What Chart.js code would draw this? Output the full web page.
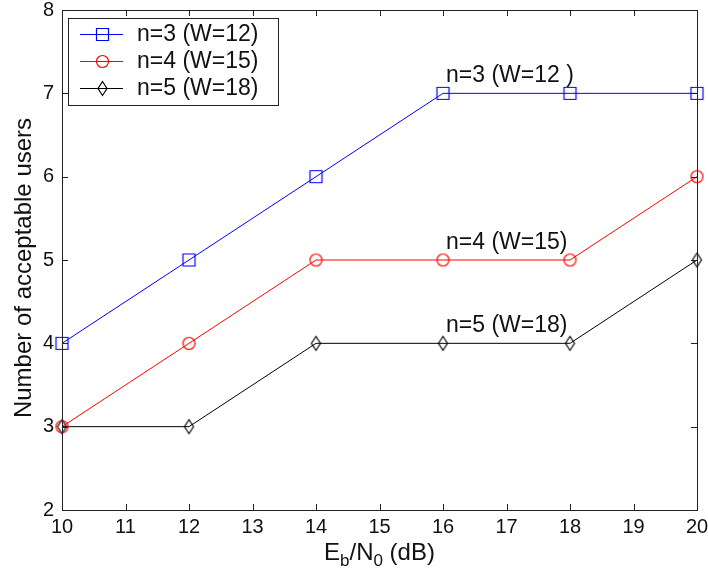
<!DOCTYPE html>
<html>
<head>
<meta charset="utf-8">
<script src="https://cdn.jsdelivr.net/npm/chart.js@4.4.1/dist/chart.umd.min.js"></script>
<style>
  html, body { margin: 0; padding: 0; background: #fff; }
  #chart { display: block; }
</style>
</head>
<body>
<canvas id="chart" width="708" height="577"></canvas>
<script>
// Eb/N0 sweep (dB) and the number of users each code can support
const snr = [10, 12, 14, 16, 18, 20];
const usersN3 = [4, 5, 6, 7, 7, 7];
const usersN4 = [3, 4, 5, 5, 5, 6];
const usersN5 = [3, 3, 4, 4, 4, 5];
const seriesNames = ['n=3 (W=12)', 'n=4 (W=15)', 'n=5 (W=18)'];
const curveNotes = ['n=3 (W=12 )', 'n=4 (W=15)', 'n=5 (W=18)'];
const xTicks = [10, 11, 12, 13, 14, 15, 16, 17, 18, 19, 20];
const yTicks = [2, 3, 4, 5, 6, 7, 8];

const FONT = '"Liberation Sans", Arial, sans-serif';
const AXIS = '#222';

// small canvases used as point markers (square, circle, thin diamond)
function makeMarker(shape, color) {
  const c = document.createElement('canvas');
  c.width = 17; c.height = 17;
  const g = c.getContext('2d');
  g.strokeStyle = color;
  g.lineWidth = 1.2;
  g.beginPath();
  if (shape === 'square') {
    g.rect(2.5, 2.5, 12, 12);
  } else if (shape === 'circle') {
    g.arc(8.5, 8.5, 6, 0, Math.PI * 2);
  } else {
    g.moveTo(8.5, 1.5); g.lineTo(13, 8.5); g.lineTo(8.5, 15.5); g.lineTo(4, 8.5); g.closePath();
  }
  g.stroke();
  return c;
}

const colors = ['#0000ff', '#ff0000', '#000000'];
const markers = [
  makeMarker('square', colors[0]),
  makeMarker('circle', colors[1]),
  makeMarker('diamond', colors[2])
];
const seriesValues = [usersN3, usersN4, usersN5];

const datasets = seriesValues.map((vals, i) => ({
  label: seriesNames[i],
  data: snr.map((x, k) => ({ x: x, y: vals[k] })),
  borderColor: colors[i],
  borderWidth: 1,
  pointStyle: markers[i],
  pointRadius: 6,
  pointHoverRadius: 6,
  fill: false,
  tension: 0,
  clip: false
}));

// box with inward ticks, the legend, curve notes and the axis titles
const decorations = {
  id: 'decorations',
  afterDatasetsDraw(chart) {
    const ctx = chart.ctx;
    const a = chart.chartArea;
    const xs = chart.scales.x, ys = chart.scales.y;
    ctx.save();

    // notes above each curve at x = 16
    ctx.font = '23px ' + FONT;
    ctx.fillStyle = '#111';
    ctx.textAlign = 'left';
    ctx.textBaseline = 'alphabetic';
    const k = snr.indexOf(16);
    curveNotes.forEach((t, i) => {
      const px = xs.getPixelForValue(snr[k]);
      const py = ys.getPixelForValue(seriesValues[i][k]);
      ctx.fillText(t, px + 3, py - 11);
    });

    // axes box
    ctx.strokeStyle = AXIS;
    ctx.lineWidth = 1;
    ctx.strokeRect(Math.round(a.left) + 0.5, Math.round(a.top) + 0.5,
      Math.round(a.right - a.left), Math.round(a.bottom - a.top));

    // inward ticks on all four sides
    const tl = 6;
    ctx.beginPath();
    xTicks.forEach(v => {
      const px = Math.round(xs.getPixelForValue(v)) + 0.5;
      ctx.moveTo(px, a.bottom); ctx.lineTo(px, a.bottom - tl);
      ctx.moveTo(px, a.top); ctx.lineTo(px, a.top + tl);
    });
    yTicks.forEach(v => {
      const py = Math.round(ys.getPixelForValue(v)) + 0.5;
      ctx.moveTo(a.left, py); ctx.lineTo(a.left + tl, py);
      ctx.moveTo(a.right, py); ctx.lineTo(a.right - tl, py);
    });
    ctx.stroke();

    // legend
    const lx = 68.5, ly = 18.5, lw = 210, lh = 87;
    ctx.fillStyle = '#fff';
    ctx.fillRect(lx, ly, lw, lh);
    ctx.strokeStyle = AXIS;
    ctx.strokeRect(lx, ly, lw, lh);
    ctx.font = '23px ' + FONT;
    ctx.textBaseline = 'middle';
    seriesNames.forEach((name, i) => {
      const cy = 34 + i * 27;
      ctx.strokeStyle = colors[i];
      ctx.beginPath();
      ctx.moveTo(80, cy + 0.5); ctx.lineTo(123, cy + 0.5);
      ctx.stroke();
      const m = markers[i];
      ctx.drawImage(m, 102 - m.width / 2 + 0.5, cy - m.height / 2 + 0.5);
      ctx.fillStyle = '#111';
      ctx.fillText(name, 137, cy + 1);
    });

    // x title with subscripts: E_b/N_0 (dB)
    const big = '24px ' + FONT, small = '17px ' + FONT;
    const parts = [['E', big, 0], ['b', small, 6], ['/N', big, 0], ['0', small, 6], [' (dB)', big, 0]];
    let total = 0;
    parts.forEach(p => { ctx.font = p[1]; total += ctx.measureText(p[0]).width; });
    let x = (a.left + a.right) / 2 - total / 2;
    const by = 560;
    ctx.textAlign = 'left';
    ctx.textBaseline = 'alphabetic';
    ctx.fillStyle = '#111';
    parts.forEach(p => {
      ctx.font = p[1];
      ctx.fillText(p[0], x, by + p[2]);
      x += ctx.measureText(p[0]).width;
    });

    // y title
    ctx.save();
    ctx.translate(31, (a.top + a.bottom) / 2 + 8);
    ctx.rotate(-Math.PI / 2);
    ctx.font = '24px ' + FONT;
    ctx.textAlign = 'center';
    ctx.fillText('Number of acceptable users', 0, 0);
    ctx.restore();

    ctx.restore();
  }
};

new Chart(document.getElementById('chart'), {
  type: 'line',
  data: { datasets: datasets },
  options: {
    responsive: false,
    animation: false,
    devicePixelRatio: 1,
    layout: { padding: { top: 10, right: 11, left: 0, bottom: 0 } },
    plugins: { legend: { display: false }, tooltip: { enabled: false } },
    scales: {
      x: {
        type: 'linear',
        min: 10, max: 20,
        afterBuildTicks: s => { s.ticks = xTicks.map(v => ({ value: v })); },
        afterFit: s => { s.height = 67; s.paddingLeft = 0; s.paddingRight = 0; },
        grid: { display: false, drawTicks: false },
        border: { display: false },
        ticks: { color: '#111', font: { family: FONT, size: 20 }, padding: 5, maxRotation: 0 }
      },
      y: {
        min: 2, max: 8,
        afterBuildTicks: s => { s.ticks = yTicks.map(v => ({ value: v })); },
        afterFit: s => { s.width = 62; s.paddingTop = 0; s.paddingBottom = 0; },
        grid: { display: false, drawTicks: false },
        border: { display: false },
        ticks: { color: '#111', font: { family: FONT, size: 20 }, padding: 8 }
      }
    }
  },
  plugins: [decorations]
});
</script>
</body>
</html>
